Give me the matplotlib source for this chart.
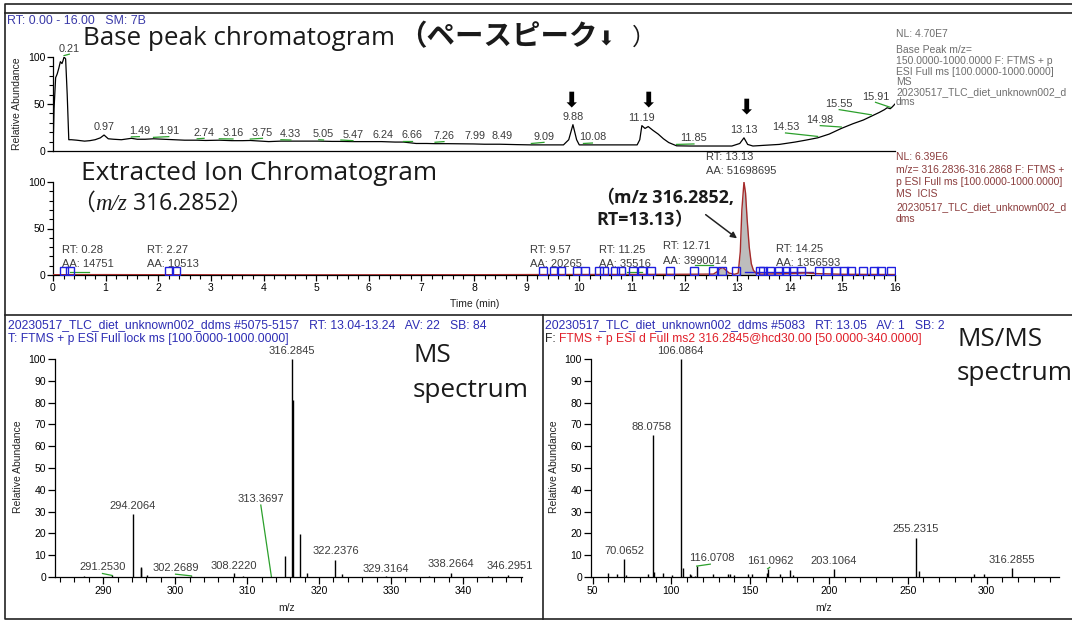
import numpy as np
import matplotlib
matplotlib.use('Agg')
from matplotlib import pyplot as plt
from matplotlib.ticker import MultipleLocator, NullLocator

W, H = 1072, 621
plt.rcParams['font.family'] = ['Liberation Sans', 'DejaVu Sans']

# ---------------- data ----------------
# base peak chromatogram: retention time (min) / relative abundance
bpc_rt = [0.00, 0.02, 0.05, 0.08, 0.11, 0.14, 0.17, 0.19, 0.21, 0.24, 0.27, 0.30, 0.35,
          0.45, 0.60, 0.70, 0.80, 0.90, 0.97, 1.05, 1.15, 1.30, 1.49, 1.60, 1.75, 1.91,
          2.10, 2.30, 2.50, 2.74, 2.90, 3.16, 3.40, 3.60, 3.75, 3.95, 4.10, 4.33, 4.60,
          4.80, 5.05, 5.30, 5.47, 5.70, 6.00, 6.24, 6.50, 6.66, 6.90, 7.10, 7.26, 7.50,
          7.99, 8.20, 8.49, 8.80, 9.09, 9.40, 9.70, 9.80, 9.88, 9.95, 10.00, 10.08, 10.40,
          10.80, 11.10, 11.15, 11.19, 11.25, 11.31, 11.40, 11.50, 11.60, 11.70, 11.85,
          12.10, 12.50, 12.90, 13.05, 13.13, 13.20, 13.30, 13.50, 13.80, 14.10, 14.30,
          14.53, 14.75, 14.98, 15.20, 15.40, 15.55, 15.70, 15.80, 15.85, 15.91, 15.95, 16.00]
bpc_ab = [0, 45, 78, 82, 88, 95, 93, 96, 100, 98, 60, 12, 12,
          11.5, 10.5, 11, 12, 14, 17, 13, 12.5, 12, 13.5, 12.5, 12.5, 13,
          12.5, 12, 11.5, 11.5, 11.2, 11.5, 11, 11, 11.2, 10.5, 10, 10.5, 10.5,
          10.5, 10.5, 10.2, 10.2, 10, 10, 10, 9.5, 9.5, 8, 8, 7.8, 7.8,
          7.5, 7.2, 7.2, 6.8, 6.5, 6.5, 6.5, 12, 28, 12, 6.5, 6.5, 6.5,
          6.5, 6.5, 12, 27, 24, 26, 22, 18, 13, 9, 5.5,
          5.3, 5.3, 5.3, 8, 14, 7, 5.3, 6, 7, 9.5, 11.5,
          14, 18, 24, 29, 33, 37, 41, 44, 46, 45, 47, 50]
bpc_peaks = [0.21, 0.97, 1.49, 1.91, 2.74, 3.16, 3.75, 4.33, 5.05, 5.47, 6.24, 6.66, 7.26,
             7.99, 8.49, 9.09, 9.88, 10.08, 11.19, 11.85, 13.13, 14.53, 14.98, 15.55, 15.91]
marked_peaks = [9.88, 11.19, 13.13]

# extracted ion chromatogram m/z 316.2852
eic_rt = [0.0, 1.0, 2.0, 4.0, 6.0, 8.0, 9.5, 11.0, 12.0,
          12.55, 12.62, 12.68, 12.73, 12.78, 12.85, 12.95,
          13.02, 13.06, 13.09, 13.13, 13.16, 13.19, 13.23, 13.27, 13.31, 13.36,
          13.45, 13.70, 14.00, 14.20, 14.30, 14.50, 15.00, 16.00]
eic_ab = [0.3, 0.4, 0.3, 0.2, 0.2, 0.3, 0.5, 0.6, 0.8,
          1.0, 3.5, 7.0, 8.0, 5.5, 2.0, 0.8,
          2.0, 25, 70, 100, 88, 60, 30, 12, 5, 2,
          1.0, 1.2, 1.5, 2.0, 2.2, 1.5, 0.8, 0.5]
eic_peaks = [0.28, 2.27, 9.57, 11.25, 12.71, 13.13, 14.25]
eic_areas = [14751, 10513, 20265, 35516, 3990014, 51698695, 1356593]
eic_bounds = [0.20, 0.32, 2.21, 2.33, 9.32, 9.52, 9.65, 9.95, 10.11, 10.38, 10.47, 10.67,
              10.80, 11.03, 11.20, 11.36, 11.72, 12.18, 12.54, 12.71, 12.97, 13.43, 13.50,
              13.63, 13.79, 13.92, 14.06, 14.22, 14.55, 14.71, 14.88, 15.04, 15.17, 15.40,
              15.60, 15.73, 15.93]

# MS spectrum (RT 13.04-13.24)
ms_mz = [287.3, 291.253, 294.2064, 295.21, 295.27, 296.1, 302.2689, 308.222, 309.4,
         313.3697, 315.28, 316.2845, 316.33, 317.29, 318.29, 322.2376, 323.24, 329.3164,
         335.3, 338.2664, 343.5, 346.2951]
ms_ab = [0.5, 0.7, 29, 4.5, 4.3, 0.8, 0.5, 1.7, 0.3, 0.2, 9.5, 100, 81, 19.5, 2, 8, 1.5,
         0.3, 0.5, 2, 0.3, 1]
ms_labels = [291.2530, 294.2064, 302.2689, 308.2220, 313.3697, 316.2845, 322.2376,
             329.3164, 338.2664, 346.2951]

# MS/MS spectrum of 316.2845
msms_mz = [59.7, 65.7, 70.0652, 71.1, 85.0, 88.0758, 89.08, 95.0, 100.6, 106.0864, 107.09,
           111.6, 112.5, 115.1, 116.0708, 126.5, 135.8, 137.3, 139.9, 148.7, 151.3, 160.6,
           161.0962, 168.8, 175.2, 177.2, 203.1064, 255.2315, 256.9, 292.2, 298.7, 316.2855]
msms_ab = [1.8, 1.2, 8.3, 0.7, 1.5, 65, 2.3, 1.8, 1, 100, 4, 1.5, 0.7, 0.5, 5, 1.5, 1.5,
           1.5, 1, 1.5, 1.5, 2, 3.8, 1.5, 3, 1, 3.5, 18, 2.6, 1.5, 1.5, 4]
msms_labels = [70.0652, 88.0758, 106.0864, 116.0708, 161.0962, 203.1064, 255.2315, 316.2855]

# ---------------- layout (label anchors) ----------------
bpc_lbl_x = [0.31, 0.98, 1.64, 2.20, 2.87, 3.42, 3.98, 4.52, 5.14, 5.70, 6.27, 6.83, 7.43,
             8.02, 8.54, 9.33, 9.88, 10.25, 11.19, 12.18, 13.13, 13.92, 14.58, 14.94, 15.63]
bpc_lbl_y = [109, 26, 21.3, 21.3, 19.5, 18.8, 19.5, 17.7, 17.7, 17, 17, 17, 16, 16, 16,
             15.2, 35.8, 14.5, 34.8, 13.5, 22.3, 25.2, 33, 50, 57.8]
arrow_dx = [-0.03, 0.12, 0.05]
arrow_y = [54, 54, 46]
eic_lbl_x = [0.17, 1.79, 9.06, 10.38, 11.60, 12.41, 13.73]
eic_lbl_y = [27, 27, 27, 27, 31, 127, 28]
ms_lbl_x = [289.9, 294.1, 300.05, 308.2, 311.9, 316.2, 322.3, 329.3, 338.3, 346.5]
ms_lbl_y = [4.6, 32.5, 4.3, 5.1, 36, 103.5, 12, 3.5, 5.8, 4.9]
msms_lbl_x = [70.0, 87.7, 105.4, 125.4, 163.1, 203.0, 255.2, 316.2]
msms_lbl_y = [12, 68.7, 103.5, 8.9, 7.4, 7.4, 21.8, 8]

LBL = '#3c3c3c'
GREEN = '#2ca02c'
CJK = ['Noto Sans CJK JP', 'DejaVu Sans']

fig = plt.figure(figsize=(W / 100, H / 100), dpi=100)


def px_axes(x0, y0, x1, y1):
    return fig.add_axes([x0 / W, 1 - y1 / H, (x1 - x0) / W, (y1 - y0) / H])


def style(ax, tick_len=4):
    ax.set_facecolor('none')
    for s in ('top', 'right'):
        ax.spines[s].set_visible(False)
    for s in ('left', 'bottom'):
        ax.spines[s].set_linewidth(0.9)
    ax.tick_params(which='major', length=tick_len, width=0.9, labelsize=7.5, pad=1.5)
    ax.tick_params(which='minor', length=tick_len * 0.7, width=0.8)


# ---- base peak chromatogram ----
ax1 = px_axes(53, 57, 895, 151)
style(ax1)
ax1.plot(bpc_rt, bpc_ab, color='black', lw=0.9)
ax1.set_xlim(0, 16)
ax1.set_ylim(0, 100)
ax1.xaxis.set_major_locator(NullLocator())
ax1.yaxis.set_major_locator(MultipleLocator(50))
ax1.yaxis.set_minor_locator(MultipleLocator(10))
for rt, lx, ly in zip(bpc_peaks, bpc_lbl_x, bpc_lbl_y):
    ax1.text(lx, ly, f'{rt:.2f}', ha='center', va='center', fontsize=7.8, color=LBL,
             clip_on=False)
    if abs(lx - rt) > 0.05:
        ax1.plot([lx, rt], [ly - 6, np.interp(rt, bpc_rt, bpc_ab) + 1.5], color=GREEN,
                 lw=0.9, clip_on=False)
for rt, dx, ay in zip(marked_peaks, arrow_dx, arrow_y):
    ax1.text(rt + dx, ay, '\u2b07', ha='center', va='center', fontsize=15,
             family='DejaVu Sans', color='black', clip_on=False)

# ---- extracted ion chromatogram ----
ax2 = px_axes(53, 182, 895, 275)
style(ax2)
ax2.fill_between(eic_rt, eic_ab, where=[12.5 < t < 12.9 for t in eic_rt],
                 color='#bdbdbd', lw=0)
ax2.fill_between(eic_rt, eic_ab, where=[13.0 < t < 13.4 for t in eic_rt],
                 color='#bdbdbd', lw=0)
ax2.plot(eic_rt, eic_ab, color='#a52a2a', lw=1.0, zorder=3)
ax2.plot(eic_bounds, [4] * len(eic_bounds), ls='none', marker='s', ms=6,
         mfc='none', mec='#1f1fe0', mew=1.0, zorder=4)
ax2.plot([13.15, 14.45], [3, 3], color='#1f1fe0', lw=1.0)
ax2.plot([0.33, 0.68], [3.5, 3.5], color=GREEN, lw=0.9)
ax2.plot([12.2, 12.55], [10.4, 10.4], color=GREEN, lw=0.9)
ax2.plot([10.9, 11.2], [3, 3], color=GREEN, lw=0.9)
ax2.set_xlim(0, 16)
ax2.set_ylim(0, 100)
ax2.xaxis.set_major_locator(MultipleLocator(1))
ax2.xaxis.set_minor_locator(MultipleLocator(0.2))
ax2.yaxis.set_major_locator(MultipleLocator(50))
ax2.yaxis.set_minor_locator(MultipleLocator(10))
for rt, aa, lx, ly in zip(eic_peaks, eic_areas, eic_lbl_x, eic_lbl_y):
    ax2.text(lx, ly, f'RT: {rt:.2f}', ha='left', va='center', fontsize=8, color=LBL,
             clip_on=False)
    ax2.text(lx, ly - 15.5, f'AA: {aa}', ha='left', va='center', fontsize=8, color=LBL,
             clip_on=False)
ax2.annotate('', xy=(13.04, 37.6), xytext=(12.36, 66.7),
             arrowprops=dict(arrowstyle='-|>', color='#222222', lw=1.1,
                             mutation_scale=9))

# ---- MS spectrum ----
ax3 = px_axes(55, 359, 522, 577)
style(ax3, tick_len=5)
ax3.vlines(ms_mz, 0, ms_ab, color='black', lw=1.0)
ax3.set_xlim(283.3, 348.2)
ax3.set_ylim(0, 100)
ax3.xaxis.set_major_locator(MultipleLocator(10))
ax3.xaxis.set_minor_locator(MultipleLocator(2))
ax3.yaxis.set_major_locator(MultipleLocator(10))
for mz, lx, ly in zip(ms_labels, ms_lbl_x, ms_lbl_y):
    ax3.text(lx, ly, f'{mz:.4f}', ha='center', va='center', fontsize=8, color=LBL,
             clip_on=False)
    if abs(lx - mz) > 0.6:
        ax3.plot([lx, mz], [ly - 3, np.interp(mz, ms_mz, ms_ab)], color=GREEN, lw=0.9)

# ---- MS/MS spectrum ----
ax4 = px_axes(591, 359, 1059, 577)
style(ax4, tick_len=5)
ax4.vlines(msms_mz, 0, msms_ab, color='black', lw=1.0)
ax4.set_xlim(49, 346)
ax4.set_ylim(0, 100)
ax4.xaxis.set_major_locator(MultipleLocator(50))
ax4.xaxis.set_minor_locator(MultipleLocator(10))
ax4.yaxis.set_major_locator(MultipleLocator(10))
for mz, lx, ly in zip(msms_labels, msms_lbl_x, msms_lbl_y):
    ax4.text(lx, ly, f'{mz:.4f}', ha='center', va='center', fontsize=8, color=LBL,
             clip_on=False)
    if abs(lx - mz) > 1.5:
        ax4.plot([lx - 0.7, mz], [ly - 3, np.interp(mz, msms_mz, msms_ab)], color=GREEN,
                 lw=0.9)

# ---- overlay in pixel coordinates ----
ov = fig.add_axes([0, 0, 1, 1])
ov.set_xlim(0, W)
ov.set_ylim(H, 0)
ov.axis('off')
renderer = fig.canvas.get_renderer()


def put_run(x, y, parts, size, width=None, **common):
    def draw(sz):
        objs, cx = [], x
        for s, kw in parts:
            kw = dict(kw)
            sc = kw.pop('scale', 1.0)
            t = ov.text(cx, y, s, fontsize=sz * sc, va='baseline', ha='left', **common, **kw)
            cx += t.get_window_extent(renderer).width
            objs.append(t)
        return objs, cx - x
    objs, w = draw(size)
    if width is not None:
        for o in objs:
            o.remove()
        size = size * width / w
        draw(size)
    return size


# frame
fk = dict(color='#222222', lw=1.2)
ov.plot([W, 5, 5, W], [4, 4, 619, 619], **fk)
ov.plot([5, W], [13, 13], **fk)
ov.plot([5, W], [315, 315], **fk)
ov.plot([543, 543], [315, 619], **fk)

# chromatogram texts
put_run(7, 24, [('RT: 0.00 - 16.00   SM: 7B', {})], 7, width=139, color='#3a3aa8')
ov.text(17, 104, 'Relative Abundance', rotation=90, ha='center', va='center',
        fontsize=7.5, color='#222222')
bpc_info = ['NL: 4.70E7', 'Base Peak m/z=', '150.0000-1000.0000 F: FTMS + p',
            'ESI Full ms [100.0000-1000.0000]', 'MS', '20230517_TLC_diet_unknown002_d',
            'dms']
for s, yy in zip(bpc_info, [37, 53, 64, 75, 85, 95, 105]):
    ov.text(896, yy, s, fontsize=7.5, color='#6e6e6e', va='baseline')
eic_info = ['NL: 6.39E6', 'm/z= 316.2836-316.2868 F: FTMS +',
            'p ESI Full ms [100.0000-1000.0000]', 'MS  ICIS',
            '20230517_TLC_diet_unknown002_d', 'dms']
for s, yy in zip(eic_info, [160, 173, 185, 197, 210, 222]):
    ov.text(896, yy, s, fontsize=7.5, color='#8b3c3c', va='baseline')
ov.text(475, 304, 'Time (min)', ha='center', va='center', fontsize=7.5, color='#222222')

put_run(83, 45, [('Base peak chromatogram', {'family': 'Open Sans'})], 18, width=311,
        color='#1a1a1a')
put_run(398, 45, [('（ペースピーク', {'family': CJK, 'weight': 'bold'}),
                  ('\u2b07', {'family': 'DejaVu Sans', 'scale': 0.7})], 17, width=216,
        color='#1a1a1a')
ov.text(632, 45, '）', family=CJK, fontsize=17, va='baseline', color='#1a1a1a')
put_run(81, 180, [('Extracted Ion Chromatogram', {'family': 'Open Sans'})], 18,
        width=356, color='#1a1a1a')
put_run(72, 210, [('（', {'family': CJK}),
                  ('m/z', {'family': 'Liberation Serif', 'style': 'italic'}),
                  (' 316.2852', {'family': 'Open Sans'}),
                  ('）', {'family': CJK})], 16, width=181, color='#1a1a1a')
sz = put_run(596, 203, [('（', {'family': CJK, 'weight': 'bold'}),
                        ('m/z 316.2852,', {'family': 'Open Sans', 'weight': 'bold'})],
             12, width=138, color='#1a1a1a')
put_run(596, 225, [('RT=13.13', {'family': 'Open Sans', 'weight': 'bold'}),
                   ('）', {'family': CJK, 'weight': 'bold'})], sz, color='#1a1a1a')

# spectrum texts
put_run(8, 328, [('20230517_TLC_diet_unknown002_ddms #5075-5157   RT: 13.04-13.24   '
                  'AV: 22   SB: 84', {})], 7, width=477, color='#2d2db4')
put_run(8, 342, [('T: FTMS + p ESI Full lock ms [100.0000-1000.0000]', {})], 7,
        width=278, color='#2d2db4')
put_run(545, 328, [('20230517_TLC_diet_unknown002_ddms #5083   RT: 13.05   AV: 1   SB: 2',
                    {})], 7, width=399, color='#2d2db4')
put_run(545, 342, [('F: ', {'color': '#222222'}),
                   ('FTMS + p ESI d Full ms2 316.2845@hcd30.00 [50.0000-340.0000]',
                    {'color': '#e0202a'})], 7, width=372)
for xx in (18, 554):
    ov.text(xx, 467, 'Relative Abundance', rotation=90, ha='center', va='center',
            fontsize=7.5, color='#222222')
ov.text(287, 608, 'm/z', ha='center', va='center', fontsize=7.5, color='#222222')
ov.text(824, 608, 'm/z', ha='center', va='center', fontsize=7.5, color='#222222')

ssz = put_run(413, 397, [('spectrum', {'family': 'Open Sans'})], 18, width=116,
              color='#1a1a1a')
put_run(413, 362, [('MS', {'family': 'Open Sans'})], ssz, color='#1a1a1a')
put_run(957, 346, [('MS/MS', {'family': 'Open Sans'})], ssz, color='#1a1a1a')
put_run(957, 380, [('spectrum', {'family': 'Open Sans'})], ssz, color='#1a1a1a')

fig.savefig('out.png', dpi=100)
